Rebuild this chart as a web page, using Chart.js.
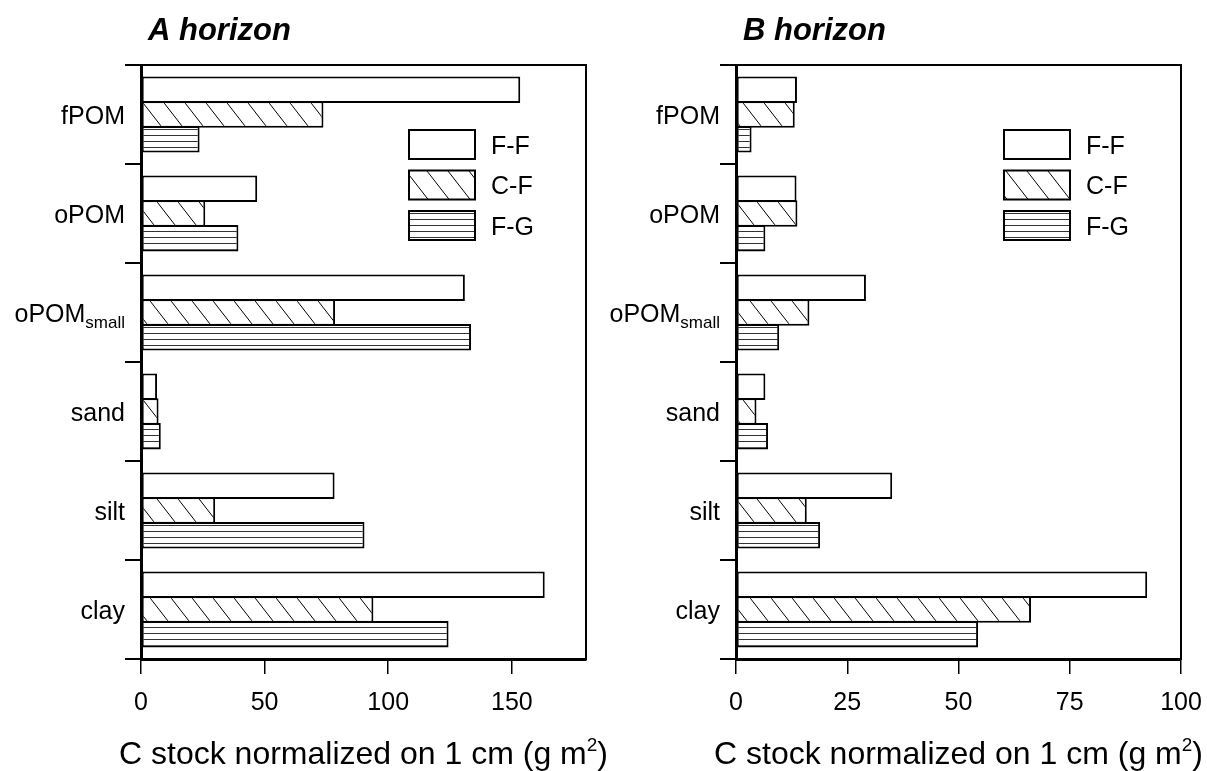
<!DOCTYPE html>
<html><head><meta charset="utf-8">
<script src="https://cdn.jsdelivr.net/npm/chart.js@4"></script>
<style>
html,body{margin:0;padding:0;background:#fff;}
#wrap{position:relative;width:1207px;height:771px;overflow:hidden;}
canvas{position:absolute;top:0;}
</style></head><body>
<div id="wrap">
<canvas id="ca" width="630" height="771" style="left:0"></canvas>
<canvas id="cb" width="660" height="771" style="left:600px"></canvas>
</div>
<script>
// ---- data ----
const categories = ['fPOM','oPOM','oPOMsmall','sand','silt','clay'];
const subscriptParts = { oPOMsmall: ['oPOM','small'] };
const seriesNames = ['F-F','C-F','F-G'];
const aFF = [153.4, 47, 131, 6.5, 78.3, 163.3];
const aCF = [73.8, 26, 78.5, 7.1, 30, 94];
const aFG = [23.7, 39.4, 133.5, 8, 90.4, 124.4];
const bFF = [13.7, 13.6, 29.2, 6.6, 35.1, 92.4];
const bCF = [13.2, 13.8, 16.5, 4.6, 15.9, 66.3];
const bFG = [3.5, 6.6, 9.7, 7.2, 18.9, 54.4];
const aTicks = [0, 50, 100, 150];
const bTicks = [0, 25, 50, 75, 100];
const aMax = 180, bMax = 100;
const panelTitles = ['A horizon', 'B horizon'];
const axisTitle = ['C stock normalized on 1 cm (g m', '2', ')'];

const FONT = "'Liberation Sans', Arial, Helvetica, sans-serif";

function makePatterns(ctx) {
  const w1 = 21, h1 = 27;
  const t1 = document.createElement('canvas'); t1.width = w1; t1.height = h1;
  const c1 = t1.getContext('2d');
  c1.fillStyle = '#fff'; c1.fillRect(0, 0, w1, h1);
  c1.strokeStyle = '#000'; c1.lineWidth = 1;
  for (const k of [-w1, 0, w1]) { c1.beginPath(); c1.moveTo(k, 0); c1.lineTo(k + w1, h1); c1.stroke(); }
  const t2 = document.createElement('canvas'); t2.width = 8; t2.height = 6;
  const c2 = t2.getContext('2d');
  c2.fillStyle = '#fff'; c2.fillRect(0, 0, 8, 6);
  c2.fillStyle = '#333'; c2.fillRect(0, 3, 8, 1);
  return { cf: ctx.createPattern(t1, 'repeat'), fg: ctx.createPattern(t2, 'repeat') };
}

function panelPlugin(title) {
  return {
    id: 'panelDeco',
    afterDraw(chart) {
      const ctx = chart.ctx, a = chart.chartArea;
      ctx.save();
      // frame top / right
      ctx.strokeStyle = '#000'; ctx.lineWidth = 2;
      ctx.beginPath(); ctx.moveTo(a.left, a.top); ctx.lineTo(a.right, a.top); ctx.lineTo(a.right, a.bottom + 1); ctx.stroke();
      // panel title
      ctx.fillStyle = '#000';
      ctx.textBaseline = 'alphabetic'; ctx.textAlign = 'left';
      ctx.font = `italic bold 31px ${FONT}`;
      ctx.fillText(title, a.left + 7, 40);
      // category labels with subscript support
      const ys = chart.scales.y;
      categories.forEach((c, i) => {
        const y = ys.getPixelForValue(i);
        const parts = subscriptParts[c] || [c, ''];
        ctx.font = `25px ${FONT}`;
        const w1 = ctx.measureText(parts[0]).width;
        ctx.font = `17px ${FONT}`;
        const w2 = parts[1] ? ctx.measureText(parts[1]).width : 0;
        const xEnd = a.left - 16;
        const x0 = xEnd - w1 - w2;
        ctx.font = `25px ${FONT}`;
        ctx.fillText(parts[0], x0, y + 9);
        if (parts[1]) { ctx.font = `17px ${FONT}`; ctx.fillText(parts[1], x0 + w1, y + 15); }
      });
      // legend
      chart.data.datasets.forEach((ds, i) => {
        const bx = a.left + 268, by = 130 + 40.5 * i, bw = 66, bh = 29;
        ctx.fillStyle = ds.backgroundColor; ctx.fillRect(bx, by, bw, bh);
        ctx.strokeStyle = '#000'; ctx.lineWidth = 2; ctx.strokeRect(bx, by, bw, bh);
        ctx.fillStyle = '#000'; ctx.font = `25px ${FONT}`;
        ctx.fillText(ds.label, a.left + 350, by + bh / 2 + 9);
      });
      // axis title with superscript
      ctx.font = `32px ${FONT}`;
      const m1 = ctx.measureText(axisTitle[0]).width, m3 = ctx.measureText(axisTitle[2]).width;
      ctx.font = `19px ${FONT}`;
      const m2 = ctx.measureText(axisTitle[1]).width;
      const cx = (a.left + a.right) / 2, tx = cx - (m1 + m2 + m3) / 2, base = 764;
      ctx.font = `32px ${FONT}`; ctx.fillText(axisTitle[0], tx, base);
      ctx.font = `19px ${FONT}`; ctx.fillText(axisTitle[1], tx + m1, base - 13);
      ctx.font = `32px ${FONT}`; ctx.fillText(axisTitle[2], tx + m1 + m2, base);
      ctx.restore();
    }
  };
}

function build(canvasId, vals, max, ticks, title, yWidth, padRight) {
  const canvas = document.getElementById(canvasId);
  const ctx = canvas.getContext('2d');
  const p = makePatterns(ctx);
  const fills = ['#fff', p.cf, p.fg];
  const datasets = seriesNames.map((n, i) => ({
    label: n, data: vals[i], backgroundColor: fills[i], borderColor: '#000', borderWidth: 2,
    borderSkipped: false, categoryPercentage: 0.75, barPercentage: 1.08
  }));
  return new Chart(ctx, {
    type: 'bar',
    data: { labels: categories, datasets },
    options: {
      indexAxis: 'y', responsive: false, animation: false, devicePixelRatio: 1,
      layout: { padding: { top: 65, right: padRight, left: 0, bottom: 0 } },
      plugins: { legend: { display: false }, tooltip: { enabled: false }, title: { display: false } },
      scales: {
        y: {
          type: 'category', offset: true,
          grid: { offset: true, drawOnChartArea: false, drawTicks: true, tickLength: 16, color: '#000', lineWidth: 2 },
          border: { display: true, color: '#000', width: 3 },
          ticks: { display: false },
          afterFit: s => { s.width = yWidth; }
        },
        x: {
          type: 'linear', min: 0, max: max,
          afterBuildTicks: s => { s.ticks = ticks.map(v => ({ value: v })); },
          grid: { drawOnChartArea: false, drawTicks: true, tickLength: 15, color: '#000', lineWidth: 1.5 },
          border: { display: true, color: '#000', width: 3 },
          ticks: { color: '#000', font: { family: FONT, size: 25 }, padding: 14, maxRotation: 0, autoSkip: false },
          afterFit: s => { s.height = 112; }
        }
      }
    },
    plugins: [panelPlugin(title)]
  });
}

build('ca', [aFF, aCF, aFG], aMax, aTicks, panelTitles[0], 141, 44);
build('cb', [bFF, bCF, bFG], bMax, bTicks, panelTitles[1], 136, 79);
</script>
</body></html>
